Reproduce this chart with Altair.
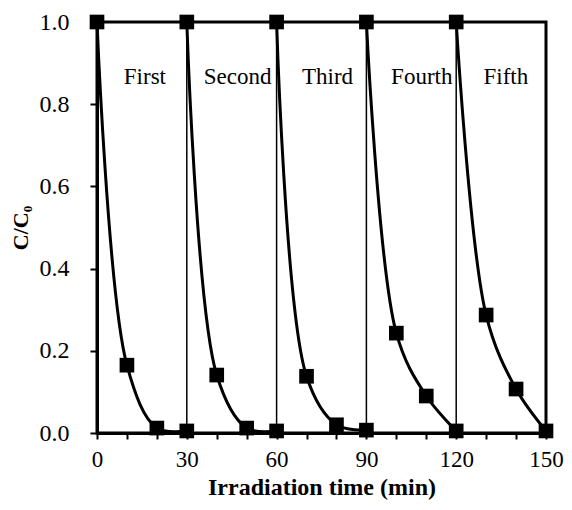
import altair as alt
import pandas as pd

# Data
cycles = ["First", "Second", "Third", "Fourth", "Fifth"]
times = [
    [0, 10, 20, 30],
    [30, 40, 50, 60],
    [60, 70, 80, 90],
    [90, 100, 110, 120],
    [120, 130, 140, 150],
]
ratios = [
    [1.0, 0.165, 0.012, 0.005],
    [1.0, 0.141, 0.012, 0.005],
    [1.0, 0.138, 0.020, 0.007],
    [1.0, 0.243, 0.090, 0.005],
    [1.0, 0.287, 0.107, 0.005],
]
separators = [30, 60, 90, 120]
tick_values = [0, 10, 20, 30, 40, 50, 60, 70, 80, 90, 100, 110, 120, 130, 140, 150]
label_x = [16, 47, 77, 108.5, 136.6]
label_y = [0.85, 0.85, 0.85, 0.85, 0.85]

rows = []
for name, ts, rs in zip(cycles, times, ratios):
    for t, r in zip(ts, rs):
        rows.append({"cycle": name, "t": t, "c": r})
df = pd.DataFrame(rows)
sep_df = pd.DataFrame({"t": separators, "y0": [0.0] * 4, "y1": [1.0] * 4})
lab_df = pd.DataFrame({"t": label_x, "c": label_y, "text": cycles})

FONT = "Liberation Serif"

x_scale = alt.Scale(domain=[0, 150], nice=False, zero=False)
y_scale = alt.Scale(domain=[0, 1.0], nice=False)

x_axis = alt.Axis(
    title="Irradiation time (min)",
    values=tick_values,
    labelExpr="datum.value % 30 === 0 ? datum.label : ''",
    labelOverlap=False, labelBound=False, labelFlush=False,
    grid=False, tickSize=6, tickWidth=2, domainWidth=3,
    labelPadding=9, titlePadding=4,
    labelFontSize=23, titleFontSize=24, titleFontWeight="bold",
    labelFont=FONT, titleFont=FONT, domainColor="black", tickColor="black",
    labelColor="black", titleColor="black",
)
y_axis = alt.Axis(
    title="C/C₀",
    values=[0, 0.2, 0.4, 0.6, 0.8, 1.0],
    format=".1f",
    labelOverlap=False,
    grid=False, tickSize=7, tickWidth=2, domainWidth=3,
    labelPadding=21, titlePadding=7,
    labelFontSize=24, titleFontSize=22, titleFontWeight="bold",
    labelFont=FONT, titleFont=FONT, domainColor="black", tickColor="black",
    labelColor="black", titleColor="black",
)

X = alt.X("t:Q", scale=x_scale, axis=x_axis)
Y = alt.Y("c:Q", scale=y_scale, axis=y_axis)

seps = alt.Chart(sep_df).mark_rule(color="black", strokeWidth=1.5).encode(
    x=alt.X("t:Q", scale=x_scale, axis=x_axis),
    y=alt.Y("y0:Q", scale=y_scale, axis=y_axis),
    y2="y1:Q",
)

lines = alt.Chart(df).mark_line(color="black", strokeWidth=3, interpolate="catmull-rom").encode(
    x=X, y=Y, detail="cycle:N",
)

points = alt.Chart(df).mark_point(shape="square", filled=True, color="black", opacity=1, size=215).encode(
    x=X, y=Y,
)

labels = alt.Chart(lab_df).mark_text(
    font=FONT, fontSize=23, color="black", align="center", baseline="alphabetic"
).encode(
    x=X, y=Y, text="text:N",
)

chart = alt.layer(seps, lines, points, labels).properties(
    width=449, height=411,
    autosize=alt.AutoSizeParams(type="none"),
    padding={"left": 89, "top": 14, "right": 18, "bottom": 69},
    background="white",
).configure_view(stroke="black", strokeWidth=3).configure_axis(labelOverlap=False)

chart.save("out.html", embed_options={"renderer": "svg", "actions": False})
